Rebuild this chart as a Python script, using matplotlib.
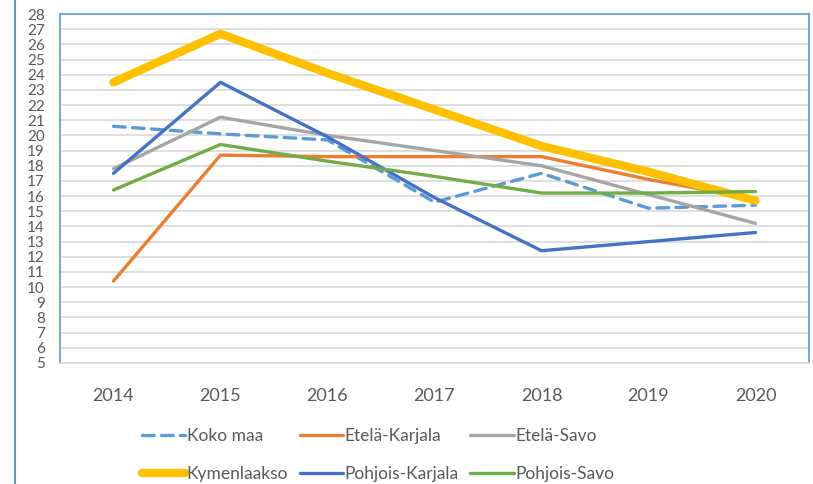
import matplotlib
matplotlib.use("Agg")
import matplotlib.pyplot as plt
from matplotlib.lines import Line2D

# data
years = ["2014", "2015", "2016", "2017", "2018", "2019", "2020"]
koko_maa = [20.6, 20.1, 19.7, 15.6, 17.5, 15.2, 15.4]
etela_karjala = [10.4, 18.7, 18.6, 18.6, 18.6, 17.1, 15.8]
etela_savo = [17.8, 21.2, 20.0, 19.0, 18.0, 16.1, 14.2]
kymenlaakso = [23.5, 26.7, 24.1, 21.7, 19.3, 17.6, 15.7]
pohjois_karjala = [17.5, 23.5, 19.9, 15.9, 12.4, 13.0, 13.6]
pohjois_savo = [16.4, 19.4, 18.3, 17.3, 16.2, 16.2, 16.3]

plt.rcParams['font.family'] = ['Lato', 'DejaVu Sans']
text_col = '#595959'
border_col = '#5B9BD5'

fig = plt.figure(figsize=(8.13, 4.84), dpi=100)
ax = fig.add_axes([60/813, 1-363/484, 749/813, 349/484])

x = range(len(years))
ax.plot(x, koko_maa, color='#5B9BD5', lw=2.4, ls=(0, (3.5, 2.2)),
        dash_capstyle='round', label='Koko maa')
ax.plot(x, etela_karjala, color='#ED7D31', lw=2.4, solid_capstyle='round', label='Etelä-Karjala')
ax.plot(x, etela_savo, color='#A5A5A5', lw=2.4, solid_capstyle='round', label='Etelä-Savo')
ax.plot(x, kymenlaakso, color='#FFC000', lw=6, solid_capstyle='round', label='Kymenlaakso')
ax.plot(x, pohjois_karjala, color='#4472C4', lw=2.4, solid_capstyle='round', label='Pohjois-Karjala')
ax.plot(x, pohjois_savo, color='#70AD47', lw=2.4, solid_capstyle='round', label='Pohjois-Savo')

ax.set_xlim(-0.5, len(years) - 0.5)
ax.set_ylim(5, 28)
ax.set_yticks(range(5, 29))
ax.set_xticks(list(x))
ax.set_xticklabels(years)
ax.yaxis.grid(True, color='#D9D9D9', lw=1.2)
ax.set_axisbelow(True)
ax.tick_params(axis='both', length=0, colors=text_col)
ax.tick_params(axis='x', pad=18, labelsize=13)
ax.tick_params(axis='y', pad=11, labelsize=11)

for side in ['left', 'top', 'right']:
    ax.spines[side].set_color(border_col)
    ax.spines[side].set_linewidth(1.2)
ax.spines['bottom'].set_color('#D9D9D9')
ax.spines['bottom'].set_linewidth(1.2)

# legend fills row by row in the reference
h, l = ax.get_legend_handles_labels()
order = [0, 3, 1, 4, 2, 5]
leg = fig.legend([h[i] for i in order], [l[i] for i in order],
                 loc='center', bbox_to_anchor=(378/813, 1-455/484), ncol=3,
                 frameon=False, fontsize=12.5, handlelength=2.5, handletextpad=0.1,
                 columnspacing=0.65, labelspacing=1.24)
for t in leg.get_texts():
    t.set_color(text_col)

# outer chart border on the left
fig.add_artist(Line2D([15/813, 15/813], [0, 1], transform=fig.transFigure,
                      color=border_col, lw=1.5))

fig.savefig('out.png', dpi=100)
